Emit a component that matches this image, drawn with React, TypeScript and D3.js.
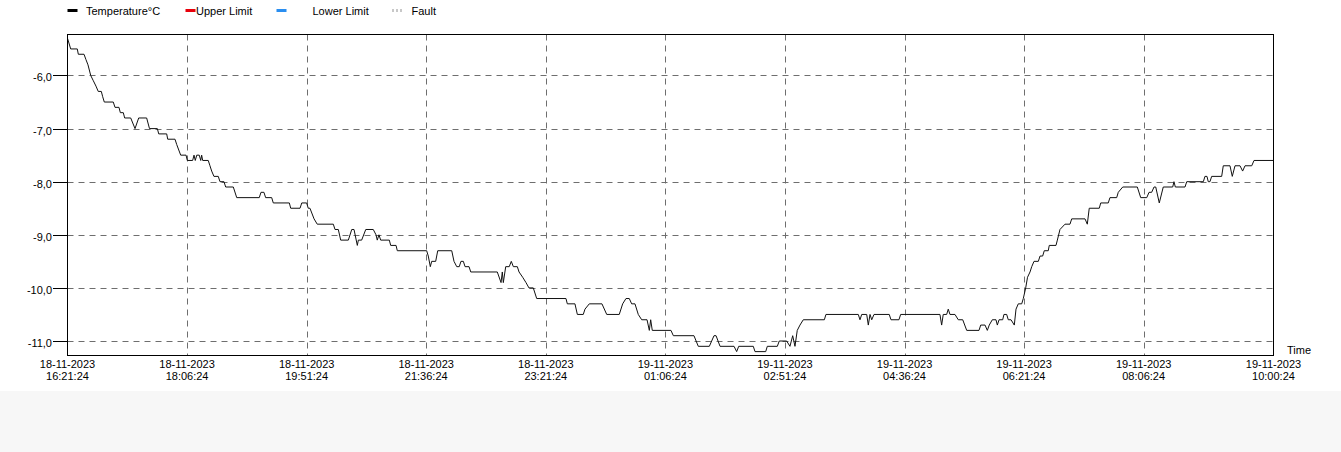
import React from "react";
import * as d3 from "d3";

// ---------- data ----------
const startLabel = "18-11-2023 16:21:24";
const endLabel = "19-11-2023 10:00:24";

const xTickLabels = [
  "18-11-2023 16:21:24",
  "18-11-2023 18:06:24",
  "18-11-2023 19:51:24",
  "18-11-2023 21:36:24",
  "18-11-2023 23:21:24",
  "19-11-2023 01:06:24",
  "19-11-2023 02:51:24",
  "19-11-2023 04:36:24",
  "19-11-2023 06:21:24",
  "19-11-2023 08:06:24",
  "19-11-2023 10:00:24",
];

const yTicks = [-6, -7, -8, -9, -10, -11];
const yDomain = [-11.273, -5.228];

// minutes elapsed since the first sample
const minutesFromStart = [
  0, 2.8, 8.6, 9.5, 14.5, 16.2, 18.0, 20.4, 22.7, 25.0, 27.0, 29.7, 30.9, 32.3, 40.2, 41.7, 45.2, 46.4, 49.0, 50.2,
  55.5, 59.3, 62.5, 69.5, 72.0, 78.9, 80.1, 87.1, 88.0, 94.4, 95.9, 99.4, 104.1, 105.2, 109.9, 111.1, 112.2, 113.5, 115.7, 117.0,
  117.8, 118.7, 123.6, 125.1, 126.6, 128.6, 132.4, 133.9, 137.4, 138.9, 145.6, 148.6, 168.4, 169.9, 172.5, 174.0, 179.3, 180.7, 194.8, 196.0,
  204.2, 205.7, 210.0, 211.4, 212.9, 216.5, 219.3, 233.4, 234.9, 237.8, 239.9, 246.6, 249.6, 251.6, 254.5, 255.4, 258.3, 261.9, 268.5, 270.9,
  272.0, 273.5, 275.0, 282.6, 283.8, 288.5, 289.6, 315.4, 316.8, 318.6, 319.8, 323.3, 325.1, 337.4, 339.4, 341.8, 344.0, 345.5, 347.6, 349.1,
  352.6, 354.1, 377.4, 380.7, 381.8, 382.7, 384.8, 387.9, 389.7, 391.5, 395.0, 396.5, 399.7, 402.6, 405.2, 409.0, 412.0, 437.7, 438.9, 445.6,
  447.7, 452.9, 454.4, 458.2, 469.3, 473.5, 484.5, 487.5, 490.4, 493.3, 495.4, 498.3, 501.2, 504.2, 508.9, 510.9, 512.1, 513.5, 529.9, 532.0,
  550.1, 553.9, 563.6, 567.7, 569.5, 573.0, 585.3, 587.6, 589.4, 602.2, 603.7, 613.1, 614.5, 623.3, 625.0, 631.5, 634.4, 636.8, 638.8, 640.8,
  643.2, 646.1, 664.6, 666.0, 694.4, 695.9, 697.4, 701.8, 703.2, 704.7, 706.2, 708.2, 721.6, 723.1, 730.1, 731.6, 766.1, 767.6, 769.0, 772.0,
  773.4, 774.9, 779.3, 782.2, 786.1, 789.6, 800.4, 801.9, 805.7, 807.7, 809.4, 812.1, 815.3, 816.5, 818.0, 821.2, 822.3, 824.7, 826.1, 828.5,
  831.4, 832.9, 834.9, 837.9, 839.3, 841.4, 843.0, 845.2, 846.7, 848.7, 852.5, 854.0, 856.3, 857.7, 861.2, 862.1, 868.0, 869.2, 871.5, 875.9,
  880.3, 881.8, 893.5, 895.5, 897.2, 906.0, 907.3, 913.9, 915.4, 921.3, 922.7, 926.6, 939.4, 942.4, 947.7, 949.7, 952.0, 954.1, 955.6, 958.7,
  962.2, 970.5, 971.6, 972.8, 981.3, 982.8, 997.4, 998.8, 1000.6, 1001.7, 1003.2, 1004.7, 1013.5, 1014.9, 1020.8, 1022.8, 1025.2, 1029.6, 1031.9, 1034.0,
  1039.9, 1041.9, 1059.0,
];

const temperatures = [
  -5.3, -5.5, -5.5, -5.6, -5.6, -5.7, -5.8, -6.0, -6.1, -6.2, -6.3, -6.3, -6.4, -6.5, -6.5, -6.6, -6.6, -6.7, -6.7, -6.8,
  -6.8, -7.0, -6.8, -6.8, -7.0, -7.0, -7.1, -7.1, -7.2, -7.2, -7.3, -7.5, -7.5, -7.6, -7.6, -7.5, -7.6, -7.5, -7.5, -7.6,
  -7.5, -7.6, -7.6, -7.7, -7.8, -7.9, -7.9, -8.0, -8.0, -8.1, -8.1, -8.3, -8.3, -8.2, -8.2, -8.3, -8.3, -8.4, -8.4, -8.5,
  -8.5, -8.4, -8.4, -8.5, -8.5, -8.7, -8.8, -8.8, -8.9, -8.9, -9.1, -9.1, -8.9, -8.9, -9.2, -9.1, -9.1, -8.9, -8.9, -9.0,
  -9.1, -9.0, -9.1, -9.1, -9.2, -9.2, -9.3, -9.3, -9.4, -9.6, -9.5, -9.5, -9.3, -9.3, -9.5, -9.6, -9.6, -9.5, -9.5, -9.6,
  -9.6, -9.7, -9.7, -9.9, -9.7, -9.9, -9.6, -9.6, -9.5, -9.6, -9.6, -9.7, -9.8, -9.9, -10.0, -10.0, -10.2, -10.2, -10.3, -10.3,
  -10.5, -10.5, -10.4, -10.3, -10.3, -10.5, -10.5, -10.3, -10.2, -10.2, -10.3, -10.3, -10.5, -10.6, -10.6, -10.8, -10.6, -10.8, -10.8, -10.9,
  -10.9, -11.1, -11.1, -10.9, -10.9, -11.1, -11.1, -11.2, -11.1, -11.1, -11.2, -11.2, -11.1, -11.1, -11.0, -11.0, -11.1, -10.9, -11.1, -10.8,
  -10.7, -10.6, -10.6, -10.5, -10.5, -10.6, -10.5, -10.5, -10.7, -10.5, -10.6, -10.5, -10.5, -10.6, -10.6, -10.5, -10.5, -10.7, -10.5, -10.5,
  -10.4, -10.5, -10.5, -10.6, -10.6, -10.8, -10.8, -10.7, -10.7, -10.8, -10.7, -10.6, -10.6, -10.7, -10.6, -10.6, -10.5, -10.5, -10.6, -10.6,
  -10.7, -10.4, -10.3, -10.3, -10.2, -10.0, -9.8, -9.7, -9.6, -9.5, -9.5, -9.4, -9.4, -9.3, -9.3, -9.2, -9.2, -9.1, -8.9, -8.8,
  -8.8, -8.7, -8.7, -8.8, -8.5, -8.5, -8.4, -8.4, -8.3, -8.3, -8.2, -8.1, -8.1, -8.3, -8.3, -8.2, -8.2, -8.1, -8.1, -8.4,
  -8.1, -8.1, -8.0, -8.1, -8.1, -8.0, -8.0, -7.9, -7.9, -8.0, -8.0, -7.9, -7.9, -7.7, -7.7, -7.9, -7.7, -7.7, -7.8, -7.7,
  -7.7, -7.6, -7.6,
];

const legendItems = ["Temperature°C", "Upper Limit", "Lower Limit", "Fault"];
const legendColors = ["#000000", "#e8000b", "#2a8ef0", "#c8c8c8"];

// ---------- chart ----------
const W = 1341;
const H = 391;
const M = { left: 67.5, right: 1273.5, top: 34.5, bottom: 355.5 };
const FONT = "'Liberation Sans', Arial, sans-serif";

export default function App() {
  const parse = d3.timeParse("%d-%m-%Y %H:%M:%S");
  const fmtDate = d3.timeFormat("%d-%m-%Y");
  const fmtTime = d3.timeFormat("%H:%M:%S");
  const t0 = parse(startLabel) as Date;
  const t1 = parse(endLabel) as Date;

  const x = d3.scaleTime().domain([t0, t1]).range([M.left, M.right]);
  const y = d3.scaleLinear().domain(yDomain).range([M.bottom, M.top]);

  const points = minutesFromStart.map((m, i) => ({
    t: d3.timeSecond.offset(t0, Math.round(m * 60)),
    v: temperatures[i],
  }));
  const line = d3
    .line<{ t: Date; v: number }>()
    .x((d) => x(d.t))
    .y((d) => y(d.v));

  const xTicks = xTickLabels.map((s) => parse(s) as Date);
  const fmtY = (v: number) => v.toFixed(1).replace(".", ",");

  const legendSwatchX = [67.5, 185.5, 276.5, 392];
  const legendTextX = [86, 196, 312.5, 411.5];

  return (
    <div
      style={{
        position: "absolute",
        left: 0,
        top: 0,
        width: W,
        height: 452,
        background: "#f7f7f7",
      }}
    >
      <svg width={W} height={H} style={{ display: "block", background: "#ffffff" }} fontFamily={FONT}>
        {/* legend */}
        {legendItems.map((name, i) => (
          <g key={name}>
            {i === 3 ? (
              <line
                x1={legendSwatchX[i]}
                x2={legendSwatchX[i] + 10}
                y1={10.5}
                y2={10.5}
                stroke={legendColors[i]}
                strokeWidth={3}
                strokeDasharray="2,2"
              />
            ) : (
              <rect x={legendSwatchX[i]} y={9} width={10} height={3} fill={legendColors[i]} />
            )}
            <text x={legendTextX[i]} y={14.5} fontSize={11} fill="#000">
              {name}
            </text>
          </g>
        ))}

        {/* horizontal grid + y ticks */}
        {yTicks.map((v) => (
          <g key={v}>
            <line
              x1={M.left}
              x2={M.right}
              y1={Math.round(y(v)) + 0.5}
              y2={Math.round(y(v)) + 0.5}
              stroke="#6e6e6e"
              strokeDasharray="6,5"
            />
            <line
              x1={53}
              x2={M.left}
              y1={Math.round(y(v)) + 0.5}
              y2={Math.round(y(v)) + 0.5}
              stroke="#000"
            />
            <text x={52} y={Math.round(y(v)) + 6} fontSize={11} textAnchor="end" fill="#000">
              {fmtY(v)}
            </text>
          </g>
        ))}

        {/* vertical grid */}
        {xTicks.slice(1, -1).map((d, i) => (
          <line
            key={i}
            x1={Math.round(x(d)) + 0.5}
            x2={Math.round(x(d)) + 0.5}
            y1={M.top}
            y2={M.bottom}
            stroke="#6e6e6e"
            strokeDasharray="6,5"
          />
        ))}

        {/* data line */}
        <path d={line(points) || ""} fill="none" stroke="#111" strokeWidth={1} />

        {/* frame */}
        <rect
          x={M.left}
          y={M.top}
          width={M.right - M.left}
          height={M.bottom - M.top}
          fill="none"
          stroke="#000"
          strokeWidth={1}
        />

        {/* x labels */}
        {xTicks.map((d, i) => (
          <g key={i} fontSize={11} fill="#000">
            <text x={x(d)} y={367.5} textAnchor="middle">
              {fmtDate(d)}
            </text>
            <text x={x(d)} y={379.5} textAnchor="middle">
              {fmtTime(d)}
            </text>
          </g>
        ))}
        <text x={1287} y={354} fontSize={11} fill="#000">
          Time
        </text>
      </svg>
    </div>
  );
}
